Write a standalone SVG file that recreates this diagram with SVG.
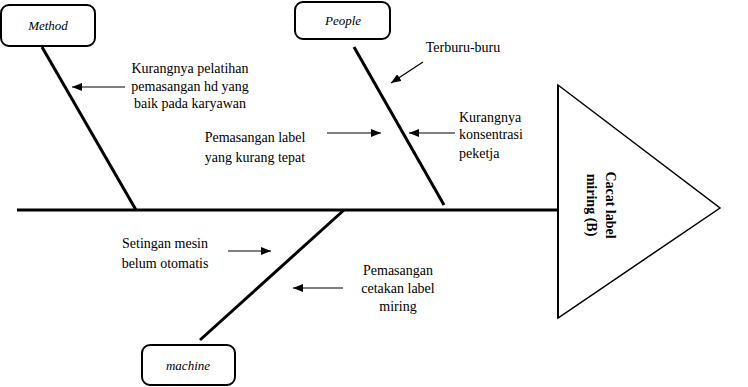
<svg xmlns="http://www.w3.org/2000/svg" width="748" height="387" viewBox="0 0 748 387">
  <style>
    .box { fill: #fff; stroke: #000; stroke-width: 2; }
    .bone { stroke: #000; stroke-width: 3; fill: none; stroke-linecap: butt; }
    .arrow { stroke: #000; stroke-width: 1.2; fill: none; marker-end: url(#head); }
    .cat { font-family: "Liberation Serif", "Times New Roman", serif; font-style: italic; font-size: 13px; fill: #000; text-anchor: middle; }
    .lbl { font-family: "Liberation Serif", "Times New Roman", serif; font-size: 14px; fill: #000; text-anchor: middle; }
    .lbl-l { text-anchor: start; }
    .effect { font-family: "Liberation Serif", "Times New Roman", serif; font-size: 14px; font-weight: bold; fill: #000; text-anchor: middle; }
  </style>
  <defs>
    <marker id="head" viewBox="0 0 10 8" refX="10" refY="4" markerWidth="10" markerHeight="8" markerUnits="userSpaceOnUse" orient="auto">
      <path d="M0,0 L10,4 L0,8 Z" fill="#000"/>
    </marker>
  </defs>
  <rect width="748" height="387" fill="#fff"/>

  <!-- spine and bones -->
  <g id="connectors">
    <line class="bone" x1="17" y1="210" x2="558" y2="210"/>
    <line class="bone" x1="42" y1="47" x2="136" y2="210"/>
    <line class="bone" x1="354" y1="47" x2="444" y2="205"/>
    <line class="bone" x1="344" y1="210" x2="200" y2="340"/>

    <line class="arrow" x1="125" y1="87" x2="72" y2="87"/>
    <line class="arrow" x1="423" y1="62" x2="391" y2="83"/>
    <line class="arrow" x1="327" y1="133" x2="381" y2="133"/>
    <line class="arrow" x1="455" y1="133" x2="409" y2="133"/>
    <line class="arrow" x1="228" y1="251" x2="271" y2="251"/>
    <line class="arrow" x1="343" y1="288" x2="293" y2="288"/>
  </g>

  <!-- effect head -->
  <g id="effect">
    <polygon points="558,85 720,208 558,318" fill="#fff" stroke="#000" stroke-width="1.5"/>
    <line x1="558" y1="85" x2="558" y2="318" stroke="#000" stroke-width="2"/>
    <g transform="translate(601,205) rotate(90)">
      <text class="effect" x="0" y="-5">Cacat label</text>
      <text class="effect" x="0" y="14">miring (B)</text>
    </g>
  </g>

  <!-- category boxes -->
  <g id="method">
    <rect class="box" x="1" y="5" width="94" height="41" rx="8"/>
    <text class="cat" x="48" y="30">Method</text>
  </g>
  <g id="people">
    <rect class="box" x="295" y="2" width="95" height="37" rx="8"/>
    <text class="cat" x="343" y="25">People</text>
  </g>
  <g id="machine">
    <rect class="box" x="142" y="345" width="93" height="40" rx="8"/>
    <text class="cat" x="188" y="370">machine</text>
  </g>

  <!-- cause labels -->
  <g id="cause-pelatihan">
    <text class="lbl" x="190" y="73">Kurangnya pelatihan</text>
    <text class="lbl" x="190" y="91">pemasangan hd yang</text>
    <text class="lbl" x="190" y="108">baik pada karyawan</text>
  </g>
  <g id="cause-terburu">
    <text class="lbl" x="463" y="52">Terburu-buru</text>
  </g>
  <g id="cause-label-tepat">
    <text class="lbl" x="255" y="142">Pemasangan label</text>
    <text class="lbl" x="255" y="162">yang kurang tepat</text>
  </g>
  <g id="cause-konsentrasi">
    <text class="lbl lbl-l" x="459" y="122">Kurangnya</text>
    <text class="lbl lbl-l" x="459" y="139">konsentrasi</text>
    <text class="lbl lbl-l" x="459" y="158">peketja</text>
  </g>
  <g id="cause-setingan">
    <text class="lbl" x="165" y="248">Setingan mesin</text>
    <text class="lbl" x="165" y="268">belum otomatis</text>
  </g>
  <g id="cause-cetakan">
    <text class="lbl" x="398" y="275">Pemasangan</text>
    <text class="lbl" x="398" y="293">cetakan label</text>
    <text class="lbl" x="398" y="311">miring</text>
  </g>
</svg>
